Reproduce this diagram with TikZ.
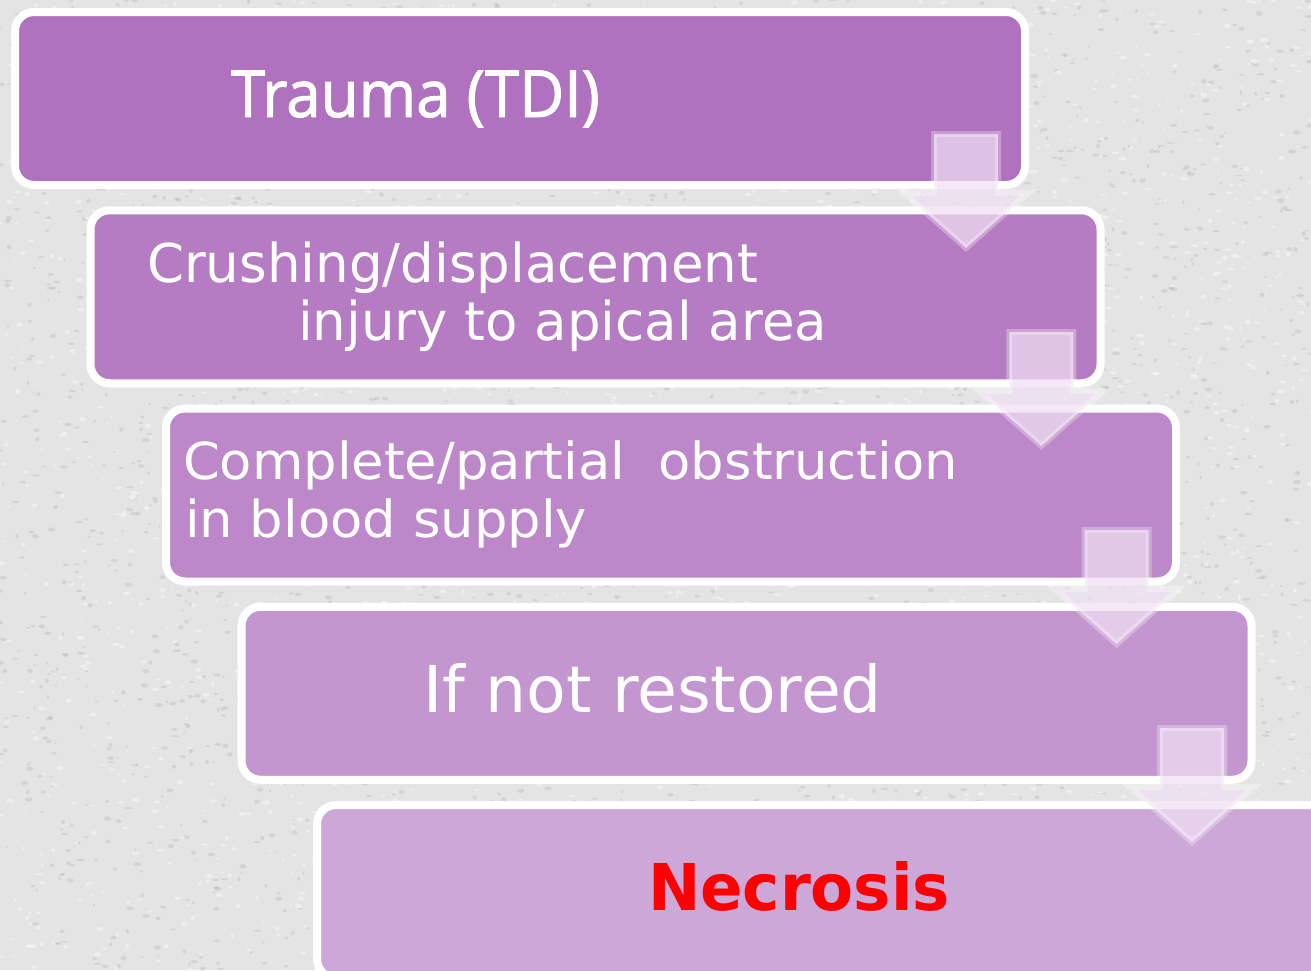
\documentclass[tikz,border=0pt]{standalone}
\usepackage{fontspec}
\setmainfont{DejaVu Sans}
\newfontfamily\titlefont[FakeBold=1.5]{Open Sans}
\usetikzlibrary{calc}
\newsavebox\fitbox
\newlength\fitlen
\newcommand\fitw[2]{\sbox\fitbox{#2}\fitlen=\wd\fitbox\pgfmathsetmacro\fitr{#1/\fitlen}\scalebox{\fitr}[1]{\usebox\fitbox}}
\definecolor{bgc}{RGB}{228,228,228}
\definecolor{c1}{RGB}{176,114,190}
\definecolor{c2}{RGB}{181,124,196}
\definecolor{c3}{RGB}{188,136,201}
\definecolor{c4}{RGB}{196,150,208}
\definecolor{c5}{RGB}{206,167,217}
\definecolor{arrowc}{RGB}{240,224,244}
\tikzset{
  box/.style={draw=white, line width=8pt, rounded corners=19pt, minimum width=1010pt, minimum height=173pt, anchor=north west, inner sep=0pt},
  txt/.style={text=white, anchor=base west, inner sep=0pt, outer sep=0pt},
  downarrow/.style={fill=arrowc, fill opacity=0.72, draw=white, draw opacity=0.3, line width=6pt, line join=miter},
  pics/darrow/.style={code={\path[downarrow] (-32,3) -- (32,3) -- (32,62) -- (62,62) -- (0,117) -- (-62,62) -- (-32,62) -- cycle;}}
}
\begin{document}
\begin{tikzpicture}[x=1pt,y=-1pt]
\useasboundingbox (0,0) rectangle (1311,970);
\begin{scope}
\clip (0,0) rectangle (1311,970);
\fill[bgc] (0,0) rectangle (1311,970);
\pgfmathsetseed{7}
\foreach \i in {1,...,3000} {
  \fill[black, opacity=0.07] (rnd*1311, rnd*970) ellipse ({1+rnd*3} and {0.8+rnd*1.5});
}
\foreach \i in {1,...,2500} {
  \fill[white, opacity=0.4] (rnd*1311, rnd*970) ellipse ({1+rnd*3} and {0.8+rnd*1.5});
}
\node[box, fill=c1] (b1) at (11,8) {};
\node[box, fill=c2] (b2) at (86.5,206.25) {};
\node[box, fill=c3] (b3) at (162,404.5) {};
\node[box, fill=c4] (b4) at (237.5,602.75) {};
\node[box, fill=c5] (b5) at (313,801) {};

\node[txt] (t1) at (231,117) {\fitw{369}{\titlefont\fontsize{65}{70}\selectfont Trauma (TDI)}};
\node[txt] (t2a) at (147,282) {\fitw{611}{\fontsize{53.5}{60}\selectfont Crushing/displacement}};
\node[txt] (t2b) at (298,340) {\fitw{529}{\fontsize{53.5}{60}\selectfont injury to apical area}};
\node[txt] (t3a) at (183,479) {\fitw{775}{\fontsize{51}{58}\selectfont Complete/partial\ \ obstruction}};
\node[txt] (t3b) at (185,537) {\fitw{402}{\fontsize{51}{58}\selectfont in blood supply}};
\node[txt] (t4) at (423,712) {\fitw{459}{\fontsize{64.5}{70}\selectfont If not restored}};
\node[txt, text={rgb,255:red,255;green,0;blue,0}] (t5) at (648,910) {\fitw{302}{\bfseries\fontsize{64.5}{70}\selectfont Necrosis}};

\pic at (966,131) {darrow};
\pic at (1041.3,329) {darrow};
\pic at (1116.6,527) {darrow};
\pic at (1192,725) {darrow};
\end{scope}
\end{tikzpicture}
\end{document}
